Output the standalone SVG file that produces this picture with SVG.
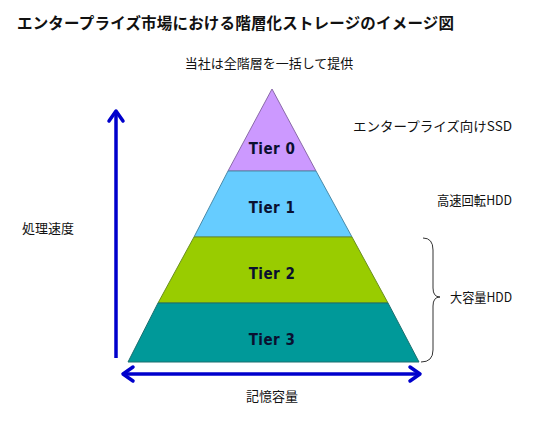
<svg xmlns="http://www.w3.org/2000/svg" width="536" height="431" viewBox="0 0 536 431">
<style>
text{font-family:"Noto Sans CJK JP","Noto Sans CJK SC",sans-serif;fill:#111}
.t{font-size:13px}
.tier{font-family:"DejaVu Sans Condensed","Liberation Sans Narrow",sans-serif;font-weight:bold;font-size:15px;fill:#0a1030;text-anchor:middle;letter-spacing:0.5px}
.ax{stroke:#0000cc;stroke-width:3.5;fill:none}
.head{stroke:#0000cc;stroke-width:3.5;fill:none;stroke-linecap:round;stroke-linejoin:round}
</style>
<rect width="536" height="431" fill="#fff"/>
<text x="17" y="29" style="font-size:15.5px;font-weight:bold" textLength="437" lengthAdjust="spacing">エンタープライズ市場における階層化ストレージのイメージ図</text>
<text x="269" y="68" class="t" text-anchor="middle">当社は全階層を一括して提供</text>
<g id="tier0"><polygon points="272,89 316,171 228,171" fill="#cc99ff" stroke="#8a6aa8" stroke-width="1"/><text class="tier" x="272" y="154">Tier 0</text></g>
<g id="tier1"><polygon points="228,171 316,171 352,237 194,237" fill="#66ccff" stroke="#4a8aa8" stroke-width="1"/><text class="tier" x="272" y="213">Tier 1</text></g>
<g id="tier2"><polygon points="194,237 352,237 388,303 158,303" fill="#99cc00" stroke="#6a8f20" stroke-width="1"/><text class="tier" x="272" y="279">Tier 2</text></g>
<g id="tier3"><polygon points="158,303 388,303 419,362 128,362" fill="#009999" stroke="#1a6f6f" stroke-width="1"/><text class="tier" x="272" y="345">Tier 3</text></g>
<g id="connectors">
<line class="ax" x1="116" y1="358" x2="116" y2="112"/>
<polyline class="head" points="109,121 116,111 123,121"/>
<line class="ax" x1="124" y1="374" x2="419" y2="374"/>
<polyline class="head" points="133,367 123,374 133,381"/>
<polyline class="head" points="410,367 420,374 410,381"/>
<path d="M423,238 Q433,238 433,250 L433,288 Q433,297 440,297 Q433,297 433,306 L433,350 Q433,362 421,362" fill="none" stroke="#333" stroke-width="1"/>
</g>
<text x="353" y="131" class="t" textLength="159" lengthAdjust="spacingAndGlyphs">エンタープライズ向けSSD</text>
<text x="437" y="205" class="t" textLength="75" lengthAdjust="spacingAndGlyphs">高速回転HDD</text>
<text x="450" y="302" class="t" textLength="62" lengthAdjust="spacingAndGlyphs">大容量HDD</text>
<text x="22" y="233" class="t">処理速度</text>
<text x="272" y="401" class="t" text-anchor="middle">記憶容量</text>
</svg>
